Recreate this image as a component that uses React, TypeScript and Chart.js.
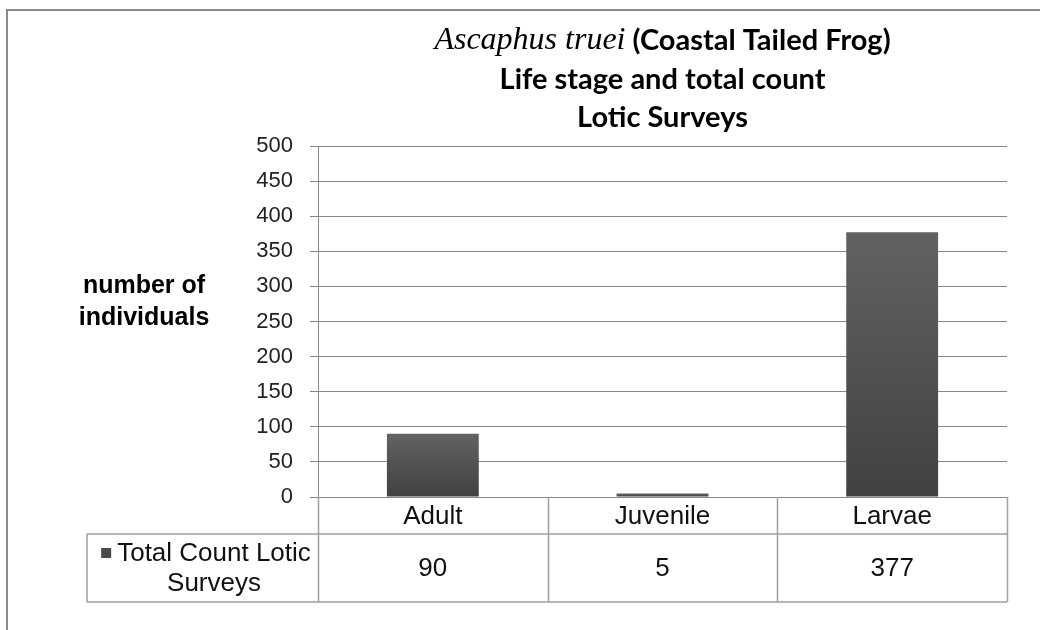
import React, { useEffect, useRef } from "react";
import { Chart, registerables } from "chart.js";

Chart.register(...registerables);

const categories = ["Adult", "Juvenile", "Larvae"];
const totalCountLotic = [90, 5, 377];
const seriesLabelLines = ["Total Count Lotic", "Surveys"];
const yMin = 0;
const yMax = 500;
const yStep = 50;
const titleItalic = "Ascaphus truei";
const titleRest = " (Coastal Tailed Frog)";
const titleLine2 = "Life stage and total count";
const titleLine3 = "Lotic Surveys";
const yTitleLines = ["number of", "individuals"];

const SANS = "'Liberation Sans', Arial, sans-serif";
const TITLE_SANS = "Lato, 'Open Sans', sans-serif";
const GRID = "#888888";
const TABLE = "#a0a0a0";

const decorPlugin = {
  id: "decor",
  afterDraw(chart: any) {
    const ctx = chart.ctx as CanvasRenderingContext2D;
    const area = chart.chartArea;
    const xs = chart.scales.x;
    ctx.save();

    // outer frame
    ctx.strokeStyle = "#8a8a8a";
    ctx.lineWidth = 2;
    ctx.beginPath();
    ctx.moveTo(7, 630);
    ctx.lineTo(7, 10);
    ctx.lineTo(1040, 10);
    ctx.stroke();

    // title
    const cx = (area.left + area.right) / 2;
    ctx.fillStyle = "#000";
    ctx.textBaseline = "middle";
    const italicFont = "italic 32px 'Liberation Serif', 'Times New Roman', serif";
    const boldFont = `bold 29px ${TITLE_SANS}`;
    ctx.font = italicFont;
    const w1 = ctx.measureText(titleItalic).width;
    ctx.font = boldFont;
    const w2 = ctx.measureText(titleRest).width;
    const sx = cx - (w1 + w2) / 2;
    ctx.textAlign = "left";
    ctx.font = italicFont;
    ctx.fillText(titleItalic, sx, 41);
    ctx.font = boldFont;
    ctx.fillText(titleRest, sx + w1, 41);
    ctx.textAlign = "center";
    ctx.fillText(titleLine2, cx, 80);
    ctx.fillText(titleLine3, cx, 118);

    // y axis title
    ctx.font = `bold 25px ${SANS}`;
    ctx.fillText(yTitleLines[0], 144, 286);
    ctx.fillText(yTitleLines[1], 144, 318);

    // data table
    const n = categories.length;
    const colW = (area.right - area.left) / n;
    const top = area.bottom;
    const mid = 534;
    const bot = 602;
    const tableLeft = 87;
    ctx.strokeStyle = TABLE;
    ctx.lineWidth = 1.5;
    ctx.beginPath();
    for (let i = 0; i <= n; i++) {
      const x = Math.round(area.left + i * colW) + 0.5;
      ctx.moveTo(x, top);
      ctx.lineTo(x, bot);
    }
    ctx.moveTo(tableLeft, mid);
    ctx.lineTo(area.right, mid);
    ctx.moveTo(tableLeft, bot);
    ctx.lineTo(area.right, bot);
    ctx.moveTo(tableLeft, mid);
    ctx.lineTo(tableLeft, bot);
    ctx.stroke();

    ctx.fillStyle = "#111";
    ctx.font = `26px ${SANS}`;
    ctx.textAlign = "center";
    for (let i = 0; i < n; i++) {
      const x = xs.getPixelForValue(i);
      ctx.fillText(categories[i], x, (top + mid) / 2 + 1);
      ctx.fillText(String(totalCountLotic[i]), x, (mid + bot) / 2 + 1);
    }

    // legend cell
    const lcx = 214;
    const tw = ctx.measureText(seriesLabelLines[0]).width;
    const sq = 10;
    const tx = lcx - tw / 2;
    ctx.fillStyle = "#4a4a4a";
    ctx.fillRect(tx - sq - 6, 548, sq, sq);
    ctx.fillStyle = "#111";
    ctx.textAlign = "center";
    ctx.fillText(seriesLabelLines[0], lcx, 554);
    ctx.fillText(seriesLabelLines[1], lcx, 584);

    ctx.restore();
  },
};

export default function App() {
  const ref = useRef<HTMLCanvasElement | null>(null);
  useEffect(() => {
    if (!ref.current) return;
    const chart = new Chart(ref.current, {
      type: "bar",
      data: {
        labels: categories,
        datasets: [
          {
            label: seriesLabelLines.join(" "),
            data: totalCountLotic,
            categoryPercentage: 1,
            barPercentage: 0.4,
            borderWidth: 0,
            backgroundColor: (c: any) => {
              const chart = c.chart;
              const ys = chart.scales && chart.scales.y;
              if (!ys || c.raw == null) return "#505050";
              const t = ys.getPixelForValue(c.raw);
              const b = ys.getPixelForValue(0);
              if (!isFinite(t) || !isFinite(b) || b - t < 1) return "#484848";
              const g = chart.ctx.createLinearGradient(0, t, 0, b);
              g.addColorStop(0, "#626262");
              g.addColorStop(1, "#414141");
              return g;
            },
          },
        ],
      },
      options: {
        responsive: false,
        animation: false,
        devicePixelRatio: 1,
        layout: { padding: { left: 0, right: 33, top: 146, bottom: 133 } },
        plugins: {
          legend: { display: false },
          title: { display: false },
          tooltip: { enabled: false },
        },
        scales: {
          x: {
            display: false,
            grid: { display: false },
          },
          y: {
            min: yMin,
            max: yMax,
            afterFit: (s: any) => {
              s.width = 318;
            },
            ticks: {
              stepSize: yStep,
              color: "#222",
              font: { family: SANS, size: 22 },
              padding: 17,
            },
            grid: {
              color: GRID,
              lineWidth: 1,
              tickLength: 8,
              drawTicks: true,
            },
            border: { color: GRID, width: 1 },
          },
        },
      },
      plugins: [decorPlugin],
    });
    return () => chart.destroy();
  }, []);
  return (
    <div style={{ position: "absolute", left: 0, top: 0, width: 1040, height: 630, background: "#fff" }}>
      <canvas ref={ref} width={1040} height={630} style={{ width: 1040, height: 630 }} />
    </div>
  );
}
